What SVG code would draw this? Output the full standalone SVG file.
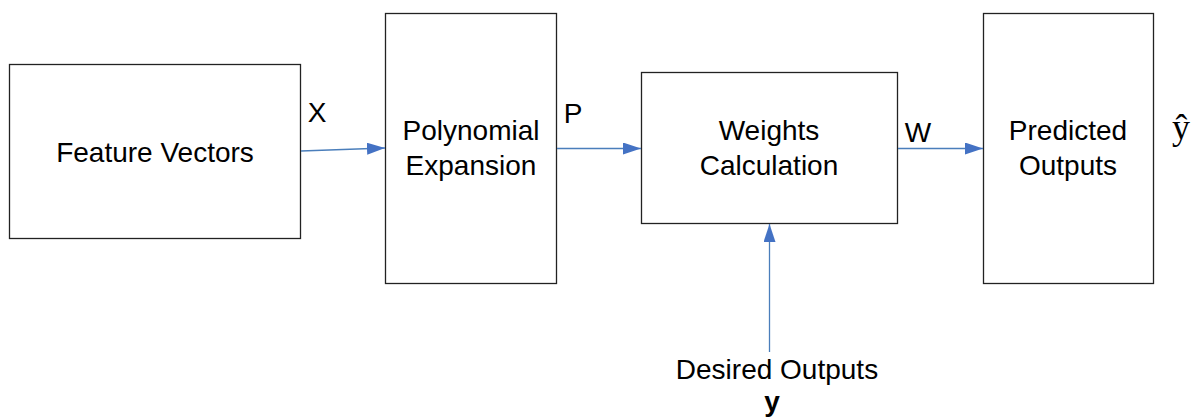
<svg xmlns="http://www.w3.org/2000/svg" width="1201" height="420" viewBox="0 0 1201 420">
<style>
.box{fill:#fff;stroke:#222;stroke-width:1.3}
.t{font-family:"Liberation Sans",Arial,sans-serif;font-size:28px;fill:#000;text-anchor:middle}
.c{stroke:#4a7ebb;stroke-width:1.3;fill:none;marker-end:url(#ah)}
</style>
<defs>
<marker id="ah" markerWidth="18" markerHeight="12" refX="18" refY="6" orient="auto" markerUnits="userSpaceOnUse">
<path d="M0,0 L18,6 L0,12 Z" fill="#4472c4"/>
</marker>
</defs>
<rect width="1201" height="420" fill="#fff"/>
<g id="feature-vectors">
<rect class="box" x="9.5" y="64.5" width="291" height="174"/>
<text class="t" x="155" y="162">Feature Vectors</text>
</g>
<g id="polynomial-expansion">
<rect class="box" x="385.5" y="13.5" width="171" height="270"/>
<text class="t" x="471" y="140">Polynomial</text>
<text class="t" x="471" y="175">Expansion</text>
</g>
<g id="weights-calculation">
<rect class="box" x="641.5" y="72.5" width="256" height="151"/>
<text class="t" x="769" y="140">Weights</text>
<text class="t" x="769" y="175">Calculation</text>
</g>
<g id="predicted-outputs">
<rect class="box" x="983.5" y="13.5" width="170" height="270"/>
<text class="t" x="1068" y="140">Predicted</text>
<text class="t" x="1068" y="175">Outputs</text>
</g>
<g id="connectors">
<line class="c" x1="301" y1="151" x2="385" y2="148"/>
<line class="c" x1="557" y1="148.5" x2="641" y2="148.5"/>
<line class="c" x1="898" y1="148.5" x2="983" y2="148.5"/>
<line class="c" x1="769.5" y1="352" x2="769.5" y2="224"/>
</g>
<g id="labels">
<text class="t" x="317" y="122">X</text>
<text class="t" x="573" y="123">P</text>
<text class="t" x="918" y="142">W</text>
<text x="1181" y="139" font-family="'Liberation Serif','Times New Roman',serif" font-size="36" text-anchor="middle">ŷ</text>
<text class="t" x="777" y="379">Desired Outputs</text>
<text class="t" x="772" y="411" font-weight="bold">y</text>
</g>
</svg>
